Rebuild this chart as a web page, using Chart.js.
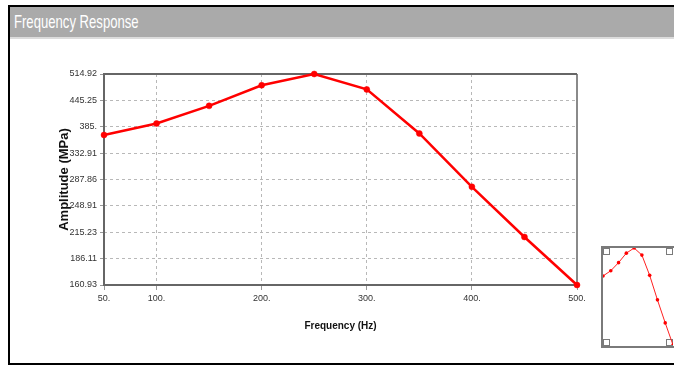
<!DOCTYPE html>
<html>
<head>
<meta charset="utf-8">
<script src="https://cdn.jsdelivr.net/npm/chart.js@4.4.1/dist/chart.umd.min.js"></script>
<style>
  html, body { margin:0; padding:0; background:#fff; width:674px; height:365px; overflow:hidden; }
  .frame { position:absolute; left:8px; top:5px; width:680px; height:356px; border-top:2.5px solid #000; border-left:2.5px solid #000; border-bottom:2.5px solid #000; box-sizing:content-box; }
  .titlebar { position:absolute; left:10px; top:7px; width:664px; height:30px; background:#aaaaaa; border-bottom:2px solid #dcdcdc; }
  .titlebar span { position:absolute; left:4px; top:4px; color:#fff; font:19px "Liberation Sans",Arial,sans-serif; transform:scaleX(0.69); transform-origin:left top; white-space:nowrap; }
  #main { position:absolute; left:0; top:0; }
  .thumb { position:absolute; left:601px; top:246px; width:80px; height:98px; border:2px solid #7a7a7a; }
  .corner { position:absolute; width:5px; height:5px; border:1.5px solid #7a7a7a; background:#fff; }
  #mini { position:absolute; left:603px; top:248px; }
</style>
</head>
<body>
<div class="frame"></div>
<div class="titlebar"><span>Frequency Response</span></div>
<canvas id="main" width="674" height="365"></canvas>
<div class="thumb">
  <div class="corner" style="left:0;top:0"></div>
  <div class="corner" style="left:63px;top:0"></div>
  <div class="corner" style="left:0;bottom:0"></div>
  <div class="corner" style="left:63px;bottom:0"></div>
</div>
<canvas id="mini" width="70" height="97"></canvas>
<script>
// data
const FREQ = [50, 100, 150, 200, 250, 300, 350, 400, 450, 500];
const AMP = [368, 392, 432, 484, 514.92, 473, 371, 276.5, 209.7, 160.93];
const X_TICKS = [50, 100, 200, 300, 400, 500];
const Y_TICKS = [160.93, 186.11, 215.23, 248.91, 287.86, 332.91, 385, 445.25, 514.92];
const Y_TICK_LABELS = ['160.93', '186.11', '215.23', '248.91', '287.86', '332.91', '385.', '445.25', '514.92'];

const SANS = '"Liberation Sans",Arial,sans-serif';
Chart.defaults.animation = false;
Chart.defaults.font.family = SANS;

const points = FREQ.map((f, i) => ({ x: f, y: AMP[i] }));

// plot frame: dark top/left/bottom, lighter right
const frame = {
  id: 'frame',
  beforeDatasetsDraw(chart) {
    const a = chart.chartArea, ctx = chart.ctx;
    ctx.save();
    ctx.lineWidth = 2;
    ctx.strokeStyle = '#8a8a8a';
    ctx.beginPath(); ctx.moveTo(a.right, a.top); ctx.lineTo(a.right, a.bottom); ctx.stroke();
    ctx.strokeStyle = '#666';
    ctx.beginPath();
    ctx.moveTo(a.right, a.top); ctx.lineTo(a.left, a.top); ctx.lineTo(a.left, a.bottom); ctx.lineTo(a.right, a.bottom);
    ctx.stroke();
    ctx.restore();
  }
};

const edgeless = (ctx) => (ctx.index === 0 || ctx.index === ctx.scale.ticks.length - 1) ? 'rgba(0,0,0,0)' : '#b8b8b8';

new Chart(document.getElementById('main'), {
  type: 'line',
  data: { datasets: [{
    data: points,
    borderColor: '#ff0000',
    backgroundColor: '#ff0000',
    borderWidth: 2.5,
    pointRadius: 3,
    pointBorderWidth: 0.5,
    pointHoverRadius: 3,
    tension: 0,
    clip: false
  }]},
  options: {
    responsive: false,
    maintainAspectRatio: false,
    layout: { autoPadding: false, padding: { left: 53, top: 74, right: 97, bottom: 29 } },
    plugins: { legend: { display: false }, tooltip: { enabled: false } },
    scales: {
      x: {
        type: 'linear', min: 50, max: 500,
        afterBuildTicks: s => { s.ticks = X_TICKS.map(v => ({ value: v })); },
        afterFit: s => { s.height = 51; },
        // in v4 the grid-line dash is read from border.dash
        border: { display: false, dash: [3, 3] },
        grid: { color: edgeless, tickLength: 5, tickColor: '#999', tickBorderDash: [] },
        ticks: { autoSkip: false, maxRotation: 0, padding: 3, color: '#333', font: { size: 9 }, callback: v => v + '.' },
        title: { display: true, text: 'Frequency (Hz)', color: '#111', font: { size: 10, weight: 'bold' }, padding: 4 }
      },
      y: {
        type: 'logarithmic', min: 160.93, max: 514.92,
        afterBuildTicks: s => { s.ticks = Y_TICKS.map(v => ({ value: v })); },
        afterFit: s => { s.width = 51; },
        border: { display: false, dash: [3, 3] },
        grid: { color: edgeless, tickLength: 4, tickColor: '#999', tickBorderDash: [] },
        ticks: { autoSkip: false, padding: 3, color: '#333', font: { size: 9 }, callback: (v, i) => Y_TICK_LABELS[i] },
        title: { display: true, text: 'Amplitude (MPa)', color: '#111', font: { size: 13, weight: 'bold' }, padding: 4 }
      }
    }
  },
  plugins: [frame]
});

// overview thumbnail, same data
new Chart(document.getElementById('mini'), {
  type: 'line',
  data: { datasets: [{
    data: points,
    borderColor: '#ff2020',
    backgroundColor: '#ff0000',
    borderWidth: 1,
    pointRadius: 1.8,
    pointBorderWidth: 0,
    tension: 0,
    clip: false
  }]},
  options: {
    responsive: false,
    maintainAspectRatio: false,
    layout: { autoPadding: false, padding: 0 },
    plugins: { legend: { display: false }, tooltip: { enabled: false } },
    scales: {
      x: { type: 'linear', min: 50, max: 500, display: false },
      y: { type: 'logarithmic', min: 160.93, max: 514.92, display: false }
    }
  }
});
</script>
</body>
</html>
